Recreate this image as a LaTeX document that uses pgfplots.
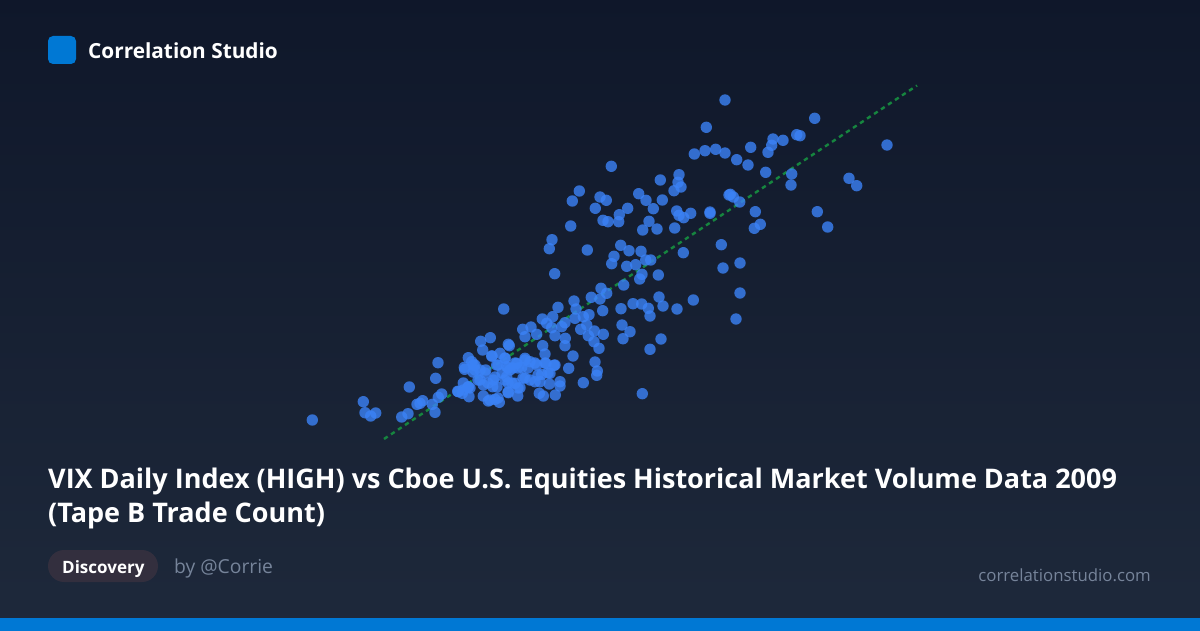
\documentclass[border=0pt]{standalone}
\usepackage{pgfplots}
\pgfplotsset{compat=1.18}
\usepackage{pgfplotstable}
\usepackage{fontspec}
\setmainfont{Open Sans}
\definecolor{bgtop}{HTML}{0F172A}
\definecolor{bgbot}{HTML}{1E293B}
\definecolor{msblue}{HTML}{0078D4}
\definecolor{dot}{HTML}{3B82F6}
\definecolor{trend}{HTML}{16853F}
\definecolor{pill}{HTML}{332F3E}
\definecolor{byc}{HTML}{76849A}
\definecolor{urlc}{HTML}{76849A}
\pgfplotstableread{
x y
312.3 420
363.3 401.7
365 412.7
370.7 416
375.7 413
409.3 387
401.7 417
408 413.7
417 404.3
420 403.3
422.7 400.7
432.3 404.3
435 412.3
438.3 397.3
441.7 394
435.7 378.3
438 362.7
457.7 391.3
462.3 393.3
463.3 383
468 387.3
469 396.7
468.3 357.7
464.3 367.3
482.7 350
480.7 341.3
490.3 337.7
491.7 356
503.7 309
464.7 369.3
473.3 365
471.7 361.7
500 353.3
508.3 344.3
509.3 345.7
505 358.3
496.7 365
485.7 370
475 370
506.7 366.7
516.7 363.3
525 358.3
530 361.7
536.7 365
521.7 367.3
513 368
546 363.3
545 354
542.7 345.7
554 365.3
550 373.3
541.7 374.3
568.7 368.3
573 356
565 345.7
565.3 338.3
595 362
597.3 371
596.7 375.3
583.3 382.7
642.3 393.7
560 381.7
560 386
549.3 384
555.3 395
543.3 396
539.3 393.3
535 381.7
530 380
540 381.7
523 378
515 383.3
520 387.7
517.7 396
508.3 392.7
506.7 376.7
499.3 402.3
495 399.3
488.3 401
483.3 396
492.7 386.7
493.3 380
480 380
483.3 385
463.3 390
458.3 391.7
468.3 386.7
522.7 329.3
531 327
525 336.7
536.7 334.3
542.3 319
552.7 316.7
546.7 323.3
551.7 327.7
555 335.7
561.7 326.7
565 322.7
558 307.3
574 301
576 309
575 318.3
583.3 316.7
589 314.7
580.7 329.3
586.7 325
588.3 335.7
594.3 331
603.3 334.3
594 341.7
599 348.3
602.7 310.7
621 308.7
591.3 297.3
600 299
606.7 293.3
633 303.7
641.7 304
648.3 308.3
622 325
630 331.7
623 338.7
650 349.3
661 339
650 316
659 297
663 306
677 309
693.3 300
611.3 166.3
579.3 191
572.3 201
600 197
606.3 200.3
595.3 208.3
619.3 214.7
627.7 208.3
603 220.3
608 221.7
618.7 221.7
570.7 226
638.7 193.7
646 200.3
660.3 180
679 174.7
678 182.3
681 187
674 190.7
662.3 200
653.3 208.7
649 221.3
642.7 230
657 229
674.7 228
676.7 211
679 215.3
683.7 217.7
690.7 213.3
710 212
710 213.3
729 195
721.3 244.7
723 268
683.3 252.7
552 239.7
549.3 248.7
587.3 250
554.7 273.7
620.7 245.3
629 250.7
641 251.3
614 256.3
611.7 263.7
626.7 266.3
635.7 264.7
645.7 260
650.7 260
642 274.3
639.7 279
658.3 275
623.7 285
601 288.3
725 100
706.3 127.3
814.7 118.3
796.7 134.7
800 135.7
773 139
783 140.3
750.7 147.3
771.7 145.3
768 152.3
694.3 154
705 150.7
715.7 149.3
725 153
736.7 159.7
748 165
765.7 172.3
791.7 174
791 185
887 145
849 178.3
856.7 185.7
730.3 194.3
733.3 197
739.7 202
755.3 211.7
760.3 224.3
754.3 228.3
817.3 211.7
827.7 227
740 263
740 293
736 319
475 365
492 356
505 358
478 380
485 373
495 377
505 380
490 400
498 398
508 392
512 383
470 388
473 372
480 370
488 383
497 387
502 373
510 370
498 365
555 365
545 363
535 363
525 360
515 363
508 368
518 368
528 368
548 373
538 375
525 378
518 388
508 383
}\dots
\begin{document}
\begin{tikzpicture}[x=1pt,y=1pt]
\useasboundingbox (0,0) rectangle (1200,630);
\shade[top color=bgtop,bottom color=bgbot] (-5,-5) rectangle (1205,635);
\begin{axis}[at={(0,0)},anchor=south west,scale only axis,width=1200pt,height=630pt,
  xmin=0,xmax=1200,ymin=0,ymax=630,y dir=reverse,hide axis,clip=true]
\addplot[trend,line width=2.4pt,dash pattern=on 4.4pt off 4pt] coordinates {(384,439) (917,85.5)};
\addplot[only marks,mark=*,mark size=5.7pt,mark options={solid,draw=dot,draw opacity=0,line width=0pt,fill=dot,fill opacity=.8}] table[x=x,y=y] {\dots};
\end{axis}
\fill[msblue] (-5,-5) rectangle (1205,12);
\fill[msblue,rounded corners=5pt] (48,566) rectangle (76,594);
\node[anchor=base west,inner sep=0,text=white] at (88,571.5) {\fontsize{20.8}{24}\selectfont\bfseries Correlation Studio};
\node[anchor=base west,inner sep=0,text=white] at (48,142) {\fontsize{27}{32}\selectfont\bfseries VIX Daily Index (HIGH) vs Cboe U.S. Equities Historical Market Volume Data 2009};
\node[anchor=base west,inner sep=0,text=white] at (48,108) {\fontsize{27}{32}\selectfont\bfseries (Tape B Trade Count)};
\fill[pill,rounded corners=16pt] (48,48) rectangle (158,80);
\node[anchor=base west,inner sep=0,text=white] at (62,57) {\fontsize{17}{20}\selectfont\bfseries Discovery};
\node[anchor=base west,inner sep=0,text=byc] at (174,57) {\fontsize{19.3}{22}\selectfont by @Corrie};
\node[anchor=base east,inner sep=0,text=urlc] at (1151,49) {\fontsize{16.8}{20}\selectfont correlationstudio.com};
\end{tikzpicture}
\end{document}
